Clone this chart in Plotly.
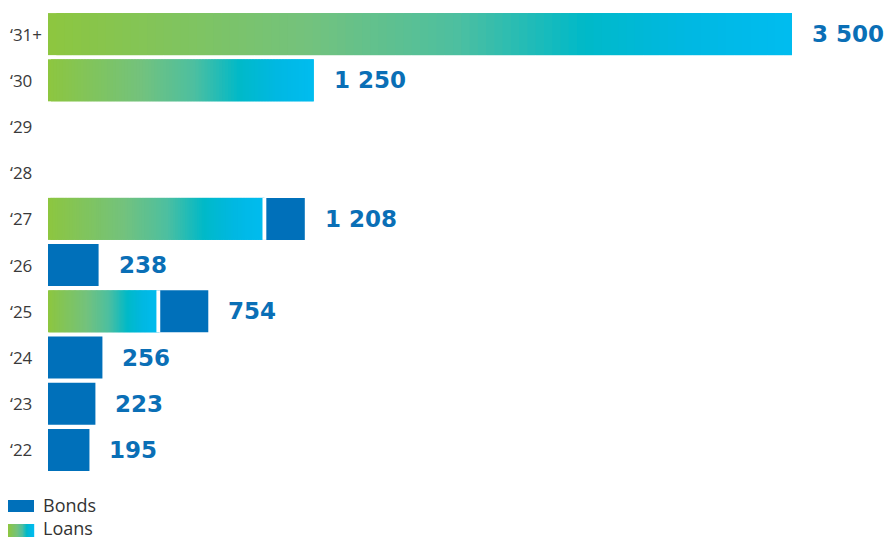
import plotly.graph_objects as go

categories = ["‘22", "‘23", "‘24", "‘25", "‘26", "‘27", "‘28", "‘29", "‘30", "‘31+"]
bonds = [195, 223, 256, 235, 238, 190, 0, 0, 0, 0]
loans = [0, 0, 0, 519, 0, 1018, 0, 0, 1250, 3500]
totals = [b + l for b, l in zip(bonds, loans)]

BOND_COLOR = "#0070ba"
LABEL_COLOR = "#0a6fb6"
STOPS = [(0.0, (141, 198, 63)), (0.35, (115, 194, 125)), (0.55, (77, 191, 160)),
         (0.72, (0, 185, 200)), (0.86, (0, 184, 226)), (1.0, (0, 188, 240))]


def grad(t):
    for (t0, c0), (t1, c1) in zip(STOPS[:-1], STOPS[1:]):
        if t <= t1:
            f = (t - t0) / (t1 - t0)
            return "rgb(%d,%d,%d)" % tuple(round(a + (b - a) * f) for a, b in zip(c0, c1))
    return "rgb(%d,%d,%d)" % STOPS[-1][1]


# layout geometry (pixels)
L, R, T, B = 48, 10, 11, 67
W, H = 886, 540
PW, PH = W - L - R, H - T - B
XMAX = 3895


def px(xp):
    return (xp - L) / PW


def py(yp):
    return (H - B - yp) / PH


fig = go.Figure()
N = 90
for i in range(N):
    c = grad((i + 0.5) / N)
    over = 1.0 if i == N - 1 else 2.0  # overlap next segment to avoid seams
    fig.add_trace(go.Bar(
        y=categories,
        x=[(l / N * over) if l > 0 else None for l in loans],
        base=[l * i / N for l in loans],
        orientation="h", marker=dict(color=c, line=dict(width=0)),
        hoverinfo="skip", showlegend=False))

fig.add_trace(go.Bar(
    y=categories, x=[b if b > 0 else None for b in bonds], base=loans, orientation="h",
    marker=dict(color=BOND_COLOR, line=dict(width=0)), hoverinfo="skip", showlegend=False))

# white separator between loans and bonds
GAP = 18
sep_x = [GAP if (l > 0 and b > 0) else None for l, b in zip(loans, bonds)]
sep_base = [l - GAP / 2 for l in loans]
fig.add_trace(go.Bar(
    y=categories, x=sep_x, base=sep_base, orientation="h",
    marker=dict(color="white", line=dict(width=0)), hoverinfo="skip", showlegend=False))

annotations = []
for cat, t in zip(categories, totals):
    annotations.append(dict(
        x=0, xref="paper", y=cat, yref="y", xanchor="left", yanchor="middle",
        xshift=-40, text=cat, showarrow=False,
        font=dict(family="Open Sans", size=17, color="#3a3a3a")))
    if t > 0:
        annotations.append(dict(
            x=t, y=cat, xref="x", yref="y", xanchor="left", yanchor="middle",
            xshift=18, text=f"{t:,}".replace(",", " "), showarrow=False,
            font=dict(family="DejaVu Sans", size=23, color=LABEL_COLOR, weight="bold")))

shapes = []
# legend: Bonds
shapes.append(dict(type="rect", xref="paper", yref="paper",
                   x0=px(8), x1=px(34), y0=py(512), y1=py(500),
                   fillcolor=BOND_COLOR, line=dict(width=0)))
# legend: Loans gradient swatch
M = 26
for i in range(M):
    c = grad((i + 0.5) / M)
    shapes.append(dict(type="rect", xref="paper", yref="paper",
                       x0=px(8 + i), x1=px(9.2 + i), y0=py(537), y1=py(524),
                       fillcolor=c, line=dict(width=0)))
for label, yc in [("Bonds", 505), ("Loans", 528)]:
    annotations.append(dict(
        x=px(42), y=py(yc), xref="paper", yref="paper", xanchor="left", yanchor="middle",
        text=label, showarrow=False, borderpad=0,
        font=dict(family="Open Sans", size=18, color="#333333")))

fig.update_layout(
    width=W, height=H, barmode="overlay", bargap=0.09,
    margin=dict(l=L, r=R, t=T, b=B),
    plot_bgcolor="white", paper_bgcolor="white",
    xaxis=dict(range=[0, XMAX], visible=False, showgrid=False, zeroline=False, fixedrange=True),
    yaxis=dict(categoryorder="array", categoryarray=categories, range=[-0.5, 9.5],
               showticklabels=False, showgrid=False, zeroline=False, fixedrange=True),
    annotations=annotations, shapes=shapes, showlegend=False,
)

fig.write_html("out.html", config={"displayModeBar": False})
